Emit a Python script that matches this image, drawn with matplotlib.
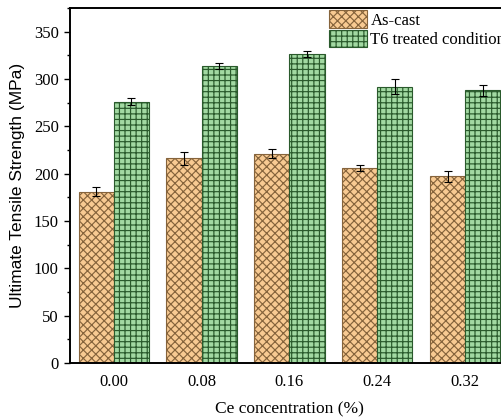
import numpy as np
import matplotlib
matplotlib.use("Agg")
import matplotlib.pyplot as plt
from matplotlib.ticker import MultipleLocator

categories = ["0.00", "0.08", "0.16", "0.24", "0.32"]
as_cast = [181, 216, 221, 206, 197]
as_cast_err = [5, 7, 5, 3, 6]
t6 = [276, 314, 326, 292, 288]
t6_err = [4, 3, 3, 8, 6]

plt.rcParams["hatch.linewidth"] = 0.85
serif = "Liberation Serif"

fig = plt.figure(figsize=(5.02, 4.19), dpi=100)
ax = fig.add_axes([0.139, 0.134, 0.875, 0.847])

x = np.arange(len(categories))
w = 0.4
err_kw = dict(ecolor="black", elinewidth=0.8, capsize=3, capthick=0.8)
ax.bar(x - w / 2, as_cast, w, yerr=as_cast_err, color="#F8CA92",
       edgecolor="#86643C", linewidth=0.8, hatch="xxxx", label="As-cast",
       error_kw=err_kw)
ax.bar(x + w / 2, t6, w, yerr=t6_err, color="#A2D9A2",
       edgecolor="#2A5A2C", linewidth=0.8, hatch="+++",
       label="T6 treated condition", error_kw=err_kw)

ax.set_xlim(-0.5, 4.5)
ax.set_ylim(0, 375)
ax.set_xticks(x)
ax.set_xticklabels(categories, fontfamily=serif, fontsize=12)
ax.tick_params(axis="x", length=0, pad=8)
ax.yaxis.set_major_locator(MultipleLocator(50))
ax.yaxis.set_minor_locator(MultipleLocator(25))
ax.tick_params(axis="y", which="major", length=4.5, width=1, labelsize=12)
ax.tick_params(axis="y", which="minor", length=2.5, width=1)
for lbl in ax.get_yticklabels():
    lbl.set_fontfamily(serif)

for s in ax.spines.values():
    s.set_linewidth(1.4)

ax.set_ylabel("Ultimate Tensile Strength (MPa)", fontfamily="Liberation Sans",
              fontsize=12.5, labelpad=6)
ax.set_xlabel("Ce concentration (%)", fontfamily=serif, fontsize=12.5,
              labelpad=8)

ax.legend(loc="upper left", bbox_to_anchor=(0.584, 1.0), frameon=False,
          prop={"family": serif, "size": 12}, handlelength=2.3,
          handleheight=1.2, labelspacing=0.1, handletextpad=0.2,
          borderaxespad=0.0, borderpad=0.15)

fig.savefig("out.png", dpi=100)
